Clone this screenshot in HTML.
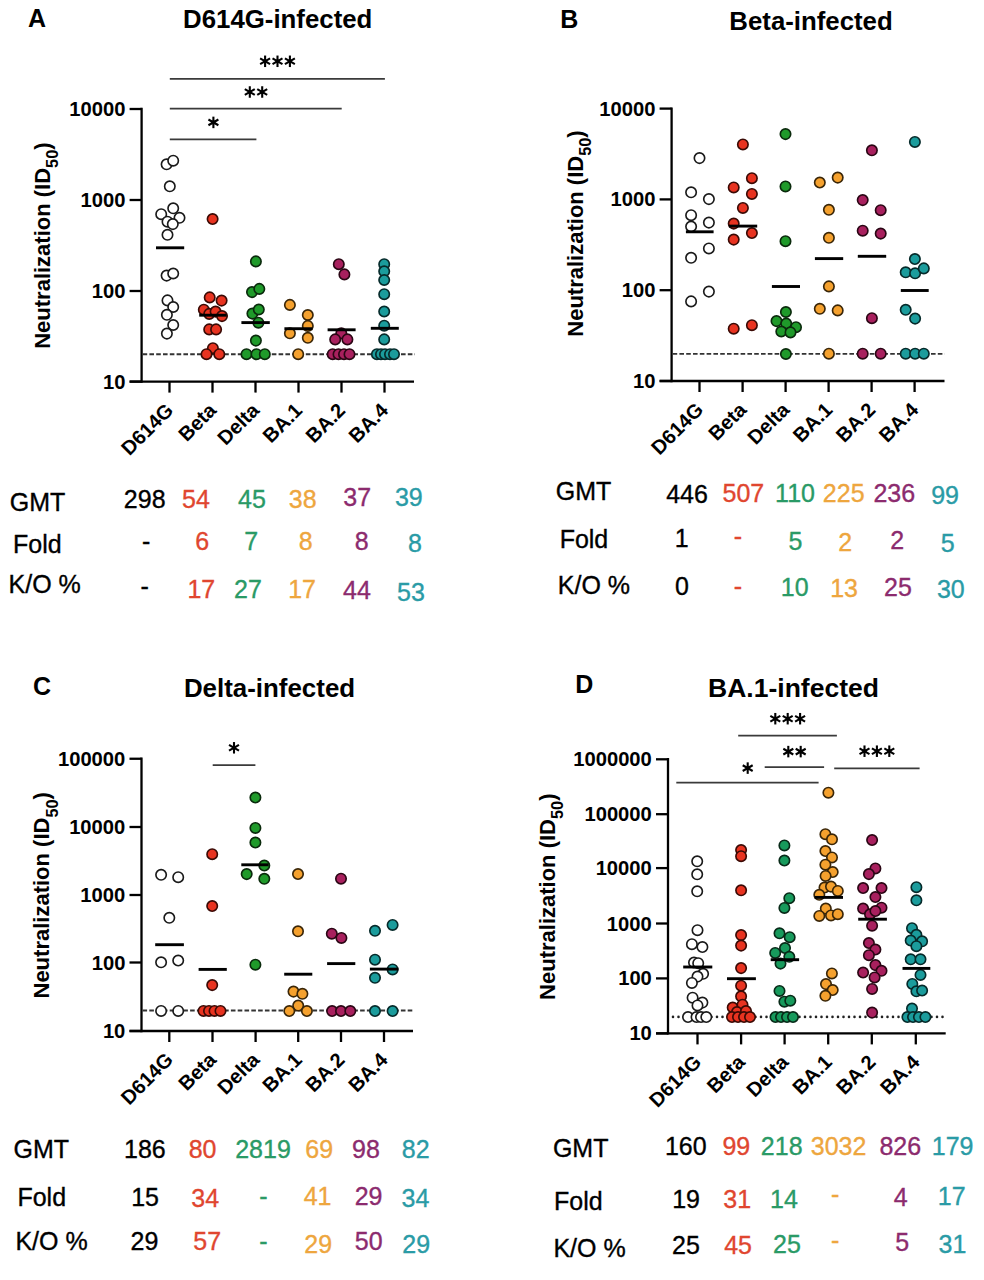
<!DOCTYPE html>
<html><head><meta charset="utf-8"><style>
html,body{margin:0;padding:0;background:#fff;width:984px;height:1280px;overflow:hidden;position:relative}
</style></head><body>
<svg width="984" height="1280" viewBox="0 0 984 1280" style="position:absolute;left:0;top:0;font-family:'Liberation Sans',sans-serif">
<rect width="984" height="1280" fill="#fff"/>
<text x="27.88" y="27.20" font-size="25" font-weight="bold" fill="#000" >A</text>
<text x="183.12" y="28.00" font-size="25.8" font-weight="bold" fill="#000" >D614G-infected</text>
<line x1="141.6" y1="107.8" x2="141.6" y2="382.8" stroke="#000" stroke-width="2.3"/>
<line x1="129.6" y1="381.6" x2="414" y2="381.6" stroke="#000" stroke-width="2.3"/>
<line x1="129.6" y1="109" x2="141.6" y2="109" stroke="#000" stroke-width="2.3"/>
<text x="69.25" y="116.07" font-size="20.2" font-weight="bold">10000</text>
<line x1="129.6" y1="200" x2="141.6" y2="200" stroke="#000" stroke-width="2.3"/>
<text x="80.46" y="207.07" font-size="20.2" font-weight="bold">1000</text>
<line x1="129.6" y1="291" x2="141.6" y2="291" stroke="#000" stroke-width="2.3"/>
<text x="91.78" y="298.07" font-size="20.2" font-weight="bold">100</text>
<line x1="129.6" y1="381.6" x2="141.6" y2="381.6" stroke="#000" stroke-width="2.3"/>
<text x="102.99" y="388.67" font-size="20.2" font-weight="bold">10</text>
<line x1="169.5" y1="381.6" x2="169.5" y2="392.6" stroke="#000" stroke-width="2.3"/>
<line x1="212.5" y1="381.6" x2="212.5" y2="392.6" stroke="#000" stroke-width="2.3"/>
<line x1="255.5" y1="381.6" x2="255.5" y2="392.6" stroke="#000" stroke-width="2.3"/>
<line x1="298.5" y1="381.6" x2="298.5" y2="392.6" stroke="#000" stroke-width="2.3"/>
<line x1="341.5" y1="381.6" x2="341.5" y2="392.6" stroke="#000" stroke-width="2.3"/>
<line x1="384.5" y1="381.6" x2="384.5" y2="392.6" stroke="#000" stroke-width="2.3"/>
<line x1="142.6" y1="354.2" x2="415" y2="354.2" stroke="#333" stroke-width="1.9" stroke-dasharray="4.6 2.2"/>
<text x="174.5" y="411.6" font-size="20.1" font-weight="bold" text-anchor="end" transform="rotate(-45 174.5 411.6)">D614G</text>
<text x="217.5" y="411.6" font-size="20.1" font-weight="bold" text-anchor="end" transform="rotate(-45 217.5 411.6)">Beta</text>
<text x="260.5" y="411.6" font-size="20.1" font-weight="bold" text-anchor="end" transform="rotate(-45 260.5 411.6)">Delta</text>
<text x="303.5" y="411.6" font-size="20.1" font-weight="bold" text-anchor="end" transform="rotate(-45 303.5 411.6)">BA.1</text>
<text x="346.5" y="411.6" font-size="20.1" font-weight="bold" text-anchor="end" transform="rotate(-45 346.5 411.6)">BA.2</text>
<text x="389.5" y="411.6" font-size="20.1" font-weight="bold" text-anchor="end" transform="rotate(-45 389.5 411.6)">BA.4</text>
<text transform="translate(50.0 348.8) rotate(-90)" font-size="22" font-weight="bold">Neutralization (ID<tspan font-size="16.3" dy="8.1">50</tspan><tspan dy="-8.1">)</tspan></text>
<line x1="169.8" y1="78.8" x2="384.9" y2="78.8" stroke="#3a3a3a" stroke-width="1.7"/>
<circle cx="265.10" cy="61.30" r="2.1" fill="#000"/>
<line x1="265.10" y1="55.55" x2="265.10" y2="67.05" stroke="#000" stroke-width="2.1"/>
<line x1="260.12" y1="58.42" x2="270.08" y2="64.17" stroke="#000" stroke-width="2.1"/>
<line x1="260.12" y1="64.17" x2="270.08" y2="58.42" stroke="#000" stroke-width="2.1"/>
<circle cx="277.50" cy="61.30" r="2.1" fill="#000"/>
<line x1="277.50" y1="55.55" x2="277.50" y2="67.05" stroke="#000" stroke-width="2.1"/>
<line x1="272.52" y1="58.42" x2="282.48" y2="64.17" stroke="#000" stroke-width="2.1"/>
<line x1="272.52" y1="64.17" x2="282.48" y2="58.42" stroke="#000" stroke-width="2.1"/>
<circle cx="289.90" cy="61.30" r="2.1" fill="#000"/>
<line x1="289.90" y1="55.55" x2="289.90" y2="67.05" stroke="#000" stroke-width="2.1"/>
<line x1="284.92" y1="58.42" x2="294.88" y2="64.17" stroke="#000" stroke-width="2.1"/>
<line x1="284.92" y1="64.17" x2="294.88" y2="58.42" stroke="#000" stroke-width="2.1"/>
<line x1="169.8" y1="108.6" x2="341.7" y2="108.6" stroke="#3a3a3a" stroke-width="1.7"/>
<circle cx="249.80" cy="92.00" r="2.1" fill="#000"/>
<line x1="249.80" y1="86.25" x2="249.80" y2="97.75" stroke="#000" stroke-width="2.1"/>
<line x1="244.82" y1="89.12" x2="254.78" y2="94.88" stroke="#000" stroke-width="2.1"/>
<line x1="244.82" y1="94.88" x2="254.78" y2="89.12" stroke="#000" stroke-width="2.1"/>
<circle cx="262.20" cy="92.00" r="2.1" fill="#000"/>
<line x1="262.20" y1="86.25" x2="262.20" y2="97.75" stroke="#000" stroke-width="2.1"/>
<line x1="257.22" y1="89.12" x2="267.18" y2="94.88" stroke="#000" stroke-width="2.1"/>
<line x1="257.22" y1="94.88" x2="267.18" y2="89.12" stroke="#000" stroke-width="2.1"/>
<line x1="169.8" y1="139.4" x2="256.4" y2="139.4" stroke="#3a3a3a" stroke-width="1.7"/>
<circle cx="213.40" cy="122.40" r="2.1" fill="#000"/>
<line x1="213.40" y1="116.65" x2="213.40" y2="128.15" stroke="#000" stroke-width="2.1"/>
<line x1="208.42" y1="119.53" x2="218.38" y2="125.28" stroke="#000" stroke-width="2.1"/>
<line x1="208.42" y1="125.28" x2="218.38" y2="119.53" stroke="#000" stroke-width="2.1"/>
<circle cx="166.6" cy="164.3" r="5.2" fill="#ffffff" stroke="#1a1a1a" stroke-width="1.65"/>
<circle cx="173.2" cy="160.7" r="5.2" fill="#ffffff" stroke="#1a1a1a" stroke-width="1.65"/>
<circle cx="169.8" cy="186.3" r="5.2" fill="#ffffff" stroke="#1a1a1a" stroke-width="1.65"/>
<circle cx="161.2" cy="214.2" r="5.2" fill="#ffffff" stroke="#1a1a1a" stroke-width="1.65"/>
<circle cx="167.5" cy="221.7" r="5.2" fill="#ffffff" stroke="#1a1a1a" stroke-width="1.65"/>
<circle cx="179.5" cy="217.8" r="5.2" fill="#ffffff" stroke="#1a1a1a" stroke-width="1.65"/>
<circle cx="173.2" cy="208.3" r="5.2" fill="#ffffff" stroke="#1a1a1a" stroke-width="1.65"/>
<circle cx="172.8" cy="224.1" r="5.2" fill="#ffffff" stroke="#1a1a1a" stroke-width="1.65"/>
<circle cx="167.5" cy="234.8" r="5.2" fill="#ffffff" stroke="#1a1a1a" stroke-width="1.65"/>
<circle cx="166.6" cy="275.6" r="5.2" fill="#ffffff" stroke="#1a1a1a" stroke-width="1.65"/>
<circle cx="173.2" cy="273.5" r="5.2" fill="#ffffff" stroke="#1a1a1a" stroke-width="1.65"/>
<circle cx="167.5" cy="300.4" r="5.2" fill="#ffffff" stroke="#1a1a1a" stroke-width="1.65"/>
<circle cx="173.2" cy="307.0" r="5.2" fill="#ffffff" stroke="#1a1a1a" stroke-width="1.65"/>
<circle cx="166.9" cy="314.8" r="5.2" fill="#ffffff" stroke="#1a1a1a" stroke-width="1.65"/>
<circle cx="173.2" cy="325.0" r="5.2" fill="#ffffff" stroke="#1a1a1a" stroke-width="1.65"/>
<circle cx="166.9" cy="333.6" r="5.2" fill="#ffffff" stroke="#1a1a1a" stroke-width="1.65"/>
<line x1="156.0" y1="247.8" x2="184.2" y2="247.8" stroke="#000" stroke-width="2.9"/>
<circle cx="212.6" cy="219.0" r="5.2" fill="#e83320" stroke="#3a0a05" stroke-width="1.65"/>
<circle cx="209.7" cy="297.4" r="5.2" fill="#e83320" stroke="#3a0a05" stroke-width="1.65"/>
<circle cx="221.6" cy="300.6" r="5.2" fill="#e83320" stroke="#3a0a05" stroke-width="1.65"/>
<circle cx="203.8" cy="309.7" r="5.2" fill="#e83320" stroke="#3a0a05" stroke-width="1.65"/>
<circle cx="209.2" cy="313.9" r="5.2" fill="#e83320" stroke="#3a0a05" stroke-width="1.65"/>
<circle cx="215.6" cy="311.6" r="5.2" fill="#e83320" stroke="#3a0a05" stroke-width="1.65"/>
<circle cx="222.0" cy="316.1" r="5.2" fill="#e83320" stroke="#3a0a05" stroke-width="1.65"/>
<circle cx="209.2" cy="329.4" r="5.2" fill="#e83320" stroke="#3a0a05" stroke-width="1.65"/>
<circle cx="216.1" cy="329.4" r="5.2" fill="#e83320" stroke="#3a0a05" stroke-width="1.65"/>
<circle cx="212.9" cy="348.2" r="5.2" fill="#e83320" stroke="#3a0a05" stroke-width="1.65"/>
<circle cx="206.5" cy="354.2" r="5.2" fill="#e83320" stroke="#3a0a05" stroke-width="1.65"/>
<circle cx="219.3" cy="354.2" r="5.2" fill="#e83320" stroke="#3a0a05" stroke-width="1.65"/>
<line x1="199.2" y1="315.2" x2="226.6" y2="315.2" stroke="#000" stroke-width="2.9"/>
<circle cx="255.9" cy="261.4" r="5.2" fill="#1f9a2a" stroke="#0a2a0c" stroke-width="1.65"/>
<circle cx="252.0" cy="292.1" r="5.2" fill="#1f9a2a" stroke="#0a2a0c" stroke-width="1.65"/>
<circle cx="259.3" cy="288.9" r="5.2" fill="#1f9a2a" stroke="#0a2a0c" stroke-width="1.65"/>
<circle cx="252.4" cy="313.6" r="5.2" fill="#1f9a2a" stroke="#0a2a0c" stroke-width="1.65"/>
<circle cx="258.8" cy="309.5" r="5.2" fill="#1f9a2a" stroke="#0a2a0c" stroke-width="1.65"/>
<circle cx="258.4" cy="322.7" r="5.2" fill="#1f9a2a" stroke="#0a2a0c" stroke-width="1.65"/>
<circle cx="255.9" cy="340.6" r="5.2" fill="#1f9a2a" stroke="#0a2a0c" stroke-width="1.65"/>
<circle cx="246.5" cy="354.2" r="5.2" fill="#1f9a2a" stroke="#0a2a0c" stroke-width="1.65"/>
<circle cx="256.5" cy="354.2" r="5.2" fill="#1f9a2a" stroke="#0a2a0c" stroke-width="1.65"/>
<circle cx="264.8" cy="354.2" r="5.2" fill="#1f9a2a" stroke="#0a2a0c" stroke-width="1.65"/>
<line x1="241.4" y1="322.6" x2="269.8" y2="322.6" stroke="#000" stroke-width="2.9"/>
<circle cx="289.9" cy="304.9" r="5.2" fill="#f5a12e" stroke="#3a2608" stroke-width="1.65"/>
<circle cx="307.8" cy="315.0" r="5.2" fill="#f5a12e" stroke="#3a2608" stroke-width="1.65"/>
<circle cx="307.8" cy="325.9" r="5.2" fill="#f5a12e" stroke="#3a2608" stroke-width="1.65"/>
<circle cx="289.9" cy="333.3" r="5.2" fill="#f5a12e" stroke="#3a2608" stroke-width="1.65"/>
<circle cx="307.8" cy="337.8" r="5.2" fill="#f5a12e" stroke="#3a2608" stroke-width="1.65"/>
<circle cx="298.2" cy="354.2" r="5.2" fill="#f5a12e" stroke="#3a2608" stroke-width="1.65"/>
<line x1="284.4" y1="328.7" x2="312.6" y2="328.7" stroke="#000" stroke-width="2.9"/>
<circle cx="338.8" cy="264.2" r="5.2" fill="#a8205e" stroke="#2a0614" stroke-width="1.65"/>
<circle cx="344.4" cy="274.4" r="5.2" fill="#a8205e" stroke="#2a0614" stroke-width="1.65"/>
<circle cx="341.3" cy="333.3" r="5.2" fill="#a8205e" stroke="#2a0614" stroke-width="1.65"/>
<circle cx="335.2" cy="339.4" r="5.2" fill="#a8205e" stroke="#2a0614" stroke-width="1.65"/>
<circle cx="347.4" cy="339.4" r="5.2" fill="#a8205e" stroke="#2a0614" stroke-width="1.65"/>
<circle cx="332.7" cy="354.2" r="5.2" fill="#a8205e" stroke="#2a0614" stroke-width="1.65"/>
<circle cx="338.5" cy="354.2" r="5.2" fill="#a8205e" stroke="#2a0614" stroke-width="1.65"/>
<circle cx="344.0" cy="354.2" r="5.2" fill="#a8205e" stroke="#2a0614" stroke-width="1.65"/>
<circle cx="349.5" cy="354.2" r="5.2" fill="#a8205e" stroke="#2a0614" stroke-width="1.65"/>
<line x1="327.6" y1="329.8" x2="355.6" y2="329.8" stroke="#000" stroke-width="2.9"/>
<circle cx="384.2" cy="264.2" r="5.2" fill="#1b9c9c" stroke="#062a2a" stroke-width="1.65"/>
<circle cx="384.2" cy="271.3" r="5.2" fill="#1b9c9c" stroke="#062a2a" stroke-width="1.65"/>
<circle cx="384.2" cy="280.0" r="5.2" fill="#1b9c9c" stroke="#062a2a" stroke-width="1.65"/>
<circle cx="384.2" cy="294.2" r="5.2" fill="#1b9c9c" stroke="#062a2a" stroke-width="1.65"/>
<circle cx="384.2" cy="311.5" r="5.2" fill="#1b9c9c" stroke="#062a2a" stroke-width="1.65"/>
<circle cx="384.2" cy="325.7" r="5.2" fill="#1b9c9c" stroke="#062a2a" stroke-width="1.65"/>
<circle cx="384.2" cy="339.4" r="5.2" fill="#1b9c9c" stroke="#062a2a" stroke-width="1.65"/>
<circle cx="376.9" cy="354.2" r="5.2" fill="#1b9c9c" stroke="#062a2a" stroke-width="1.65"/>
<circle cx="381.0" cy="354.2" r="5.2" fill="#1b9c9c" stroke="#062a2a" stroke-width="1.65"/>
<circle cx="385.0" cy="354.2" r="5.2" fill="#1b9c9c" stroke="#062a2a" stroke-width="1.65"/>
<circle cx="390.0" cy="354.2" r="5.2" fill="#1b9c9c" stroke="#062a2a" stroke-width="1.65"/>
<circle cx="394.0" cy="354.2" r="5.2" fill="#1b9c9c" stroke="#062a2a" stroke-width="1.65"/>
<line x1="370.8" y1="328.3" x2="398.8" y2="328.3" stroke="#000" stroke-width="2.9"/>
<text x="9.82" y="511.25" font-size="25" font-weight="normal" fill="#000" stroke="#000" stroke-width="0.35">GMT</text>
<text x="13.00" y="553.25" font-size="25" font-weight="normal" fill="#000" stroke="#000" stroke-width="0.35">Fold</text>
<text x="8.56" y="593.05" font-size="25" font-weight="normal" fill="#000" stroke="#000" stroke-width="0.35">K/O %</text>
<text x="123.86" y="507.55" font-size="25" font-weight="normal" fill="#000" stroke="#000" stroke-width="0.35">298</text>
<text x="141.91" y="550.33" font-size="25" fill="#000" stroke="#000" stroke-width="0.35">-</text>
<text x="140.61" y="594.73" font-size="25" fill="#000" stroke="#000" stroke-width="0.35">-</text>
<text x="182.10" y="507.85" font-size="25" font-weight="normal" fill="#e0462f" stroke="#e0462f" stroke-width="0.35">54</text>
<text x="238.11" y="507.85" font-size="25" font-weight="normal" fill="#2a9a66" stroke="#2a9a66" stroke-width="0.35">45</text>
<text x="288.82" y="507.85" font-size="25" font-weight="normal" fill="#eea63e" stroke="#eea63e" stroke-width="0.35">38</text>
<text x="343.30" y="506.45" font-size="25" font-weight="normal" fill="#8c2b6e" stroke="#8c2b6e" stroke-width="0.35">37</text>
<text x="394.94" y="506.45" font-size="25" font-weight="normal" fill="#2a9ba6" stroke="#2a9ba6" stroke-width="0.35">39</text>
<text x="195.25" y="549.85" font-size="25" font-weight="normal" fill="#e0462f" stroke="#e0462f" stroke-width="0.35">6</text>
<text x="244.31" y="550.10" font-size="25" font-weight="normal" fill="#2a9a66" stroke="#2a9a66" stroke-width="0.35">7</text>
<text x="298.85" y="550.45" font-size="25" font-weight="normal" fill="#eea63e" stroke="#eea63e" stroke-width="0.35">8</text>
<text x="354.65" y="550.45" font-size="25" font-weight="normal" fill="#8c2b6e" stroke="#8c2b6e" stroke-width="0.35">8</text>
<text x="408.05" y="551.75" font-size="25" font-weight="normal" fill="#2a9ba6" stroke="#2a9ba6" stroke-width="0.35">8</text>
<text x="187.41" y="598.10" font-size="25" font-weight="normal" fill="#e0462f" stroke="#e0462f" stroke-width="0.35">17</text>
<text x="234.08" y="598.10" font-size="25" font-weight="normal" fill="#2a9a66" stroke="#2a9a66" stroke-width="0.35">27</text>
<text x="288.21" y="598.10" font-size="25" font-weight="normal" fill="#eea63e" stroke="#eea63e" stroke-width="0.35">17</text>
<text x="343.04" y="598.70" font-size="25" font-weight="normal" fill="#8c2b6e" stroke="#8c2b6e" stroke-width="0.35">44</text>
<text x="396.99" y="600.65" font-size="25" font-weight="normal" fill="#2a9ba6" stroke="#2a9ba6" stroke-width="0.35">53</text>
<text x="560.27" y="27.60" font-size="25" font-weight="bold" fill="#000" >B</text>
<text x="729.32" y="29.70" font-size="25.8" font-weight="bold" fill="#000" >Beta-infected</text>
<line x1="671.6" y1="107.39999999999999" x2="671.6" y2="382.2" stroke="#000" stroke-width="2.3"/>
<line x1="659.6" y1="381.0" x2="944.5" y2="381.0" stroke="#000" stroke-width="2.3"/>
<line x1="659.6" y1="108.6" x2="671.6" y2="108.6" stroke="#000" stroke-width="2.3"/>
<text x="599.25" y="115.67" font-size="20.2" font-weight="bold">10000</text>
<line x1="659.6" y1="199.4" x2="671.6" y2="199.4" stroke="#000" stroke-width="2.3"/>
<text x="610.46" y="206.47" font-size="20.2" font-weight="bold">1000</text>
<line x1="659.6" y1="290.2" x2="671.6" y2="290.2" stroke="#000" stroke-width="2.3"/>
<text x="621.77" y="297.27" font-size="20.2" font-weight="bold">100</text>
<line x1="659.6" y1="381.0" x2="671.6" y2="381.0" stroke="#000" stroke-width="2.3"/>
<text x="632.99" y="388.07" font-size="20.2" font-weight="bold">10</text>
<line x1="699.5" y1="381.0" x2="699.5" y2="392.0" stroke="#000" stroke-width="2.3"/>
<line x1="742.6" y1="381.0" x2="742.6" y2="392.0" stroke="#000" stroke-width="2.3"/>
<line x1="785.6" y1="381.0" x2="785.6" y2="392.0" stroke="#000" stroke-width="2.3"/>
<line x1="828.6" y1="381.0" x2="828.6" y2="392.0" stroke="#000" stroke-width="2.3"/>
<line x1="871.6" y1="381.0" x2="871.6" y2="392.0" stroke="#000" stroke-width="2.3"/>
<line x1="914.6" y1="381.0" x2="914.6" y2="392.0" stroke="#000" stroke-width="2.3"/>
<line x1="672.6" y1="353.9" x2="944.7" y2="353.9" stroke="#333" stroke-width="1.9" stroke-dasharray="4.6 2.2"/>
<text x="704.5" y="411.0" font-size="20.1" font-weight="bold" text-anchor="end" transform="rotate(-45 704.5 411.0)">D614G</text>
<text x="747.6" y="411.0" font-size="20.1" font-weight="bold" text-anchor="end" transform="rotate(-45 747.6 411.0)">Beta</text>
<text x="790.6" y="411.0" font-size="20.1" font-weight="bold" text-anchor="end" transform="rotate(-45 790.6 411.0)">Delta</text>
<text x="833.6" y="411.0" font-size="20.1" font-weight="bold" text-anchor="end" transform="rotate(-45 833.6 411.0)">BA.1</text>
<text x="876.6" y="411.0" font-size="20.1" font-weight="bold" text-anchor="end" transform="rotate(-45 876.6 411.0)">BA.2</text>
<text x="919.6" y="411.0" font-size="20.1" font-weight="bold" text-anchor="end" transform="rotate(-45 919.6 411.0)">BA.4</text>
<text transform="translate(582.9 336.7) rotate(-90)" font-size="22" font-weight="bold">Neutralization (ID<tspan font-size="16.3" dy="8.1">50</tspan><tspan dy="-8.1">)</tspan></text>
<circle cx="699.5" cy="158.1" r="5.2" fill="#ffffff" stroke="#1a1a1a" stroke-width="1.65"/>
<circle cx="691.1" cy="192.3" r="5.2" fill="#ffffff" stroke="#1a1a1a" stroke-width="1.65"/>
<circle cx="708.9" cy="199.1" r="5.2" fill="#ffffff" stroke="#1a1a1a" stroke-width="1.65"/>
<circle cx="691.1" cy="215.2" r="5.2" fill="#ffffff" stroke="#1a1a1a" stroke-width="1.65"/>
<circle cx="708.9" cy="222.6" r="5.2" fill="#ffffff" stroke="#1a1a1a" stroke-width="1.65"/>
<circle cx="691.1" cy="226.5" r="5.2" fill="#ffffff" stroke="#1a1a1a" stroke-width="1.65"/>
<circle cx="708.9" cy="248.4" r="5.2" fill="#ffffff" stroke="#1a1a1a" stroke-width="1.65"/>
<circle cx="691.1" cy="257.8" r="5.2" fill="#ffffff" stroke="#1a1a1a" stroke-width="1.65"/>
<circle cx="708.9" cy="291.6" r="5.2" fill="#ffffff" stroke="#1a1a1a" stroke-width="1.65"/>
<circle cx="691.1" cy="301.4" r="5.2" fill="#ffffff" stroke="#1a1a1a" stroke-width="1.65"/>
<line x1="685.9" y1="231.8" x2="713.6" y2="231.8" stroke="#000" stroke-width="2.9"/>
<circle cx="742.9" cy="144.4" r="5.2" fill="#e83320" stroke="#3a0a05" stroke-width="1.65"/>
<circle cx="751.9" cy="178.2" r="5.2" fill="#e83320" stroke="#3a0a05" stroke-width="1.65"/>
<circle cx="733.7" cy="187.4" r="5.2" fill="#e83320" stroke="#3a0a05" stroke-width="1.65"/>
<circle cx="751.9" cy="193.9" r="5.2" fill="#e83320" stroke="#3a0a05" stroke-width="1.65"/>
<circle cx="742.9" cy="207.9" r="5.2" fill="#e83320" stroke="#3a0a05" stroke-width="1.65"/>
<circle cx="733.7" cy="223.6" r="5.2" fill="#e83320" stroke="#3a0a05" stroke-width="1.65"/>
<circle cx="751.9" cy="233.0" r="5.2" fill="#e83320" stroke="#3a0a05" stroke-width="1.65"/>
<circle cx="733.7" cy="239.6" r="5.2" fill="#e83320" stroke="#3a0a05" stroke-width="1.65"/>
<circle cx="751.9" cy="325.2" r="5.2" fill="#e83320" stroke="#3a0a05" stroke-width="1.65"/>
<circle cx="733.7" cy="328.7" r="5.2" fill="#e83320" stroke="#3a0a05" stroke-width="1.65"/>
<line x1="728.9" y1="226.1" x2="757.2" y2="226.1" stroke="#000" stroke-width="2.9"/>
<circle cx="785.5" cy="134.1" r="5.2" fill="#1f9a2a" stroke="#0a2a0c" stroke-width="1.65"/>
<circle cx="785.5" cy="186.4" r="5.2" fill="#1f9a2a" stroke="#0a2a0c" stroke-width="1.65"/>
<circle cx="785.5" cy="241.2" r="5.2" fill="#1f9a2a" stroke="#0a2a0c" stroke-width="1.65"/>
<circle cx="785.9" cy="312.0" r="5.2" fill="#1f9a2a" stroke="#0a2a0c" stroke-width="1.65"/>
<circle cx="776.5" cy="321.1" r="5.2" fill="#1f9a2a" stroke="#0a2a0c" stroke-width="1.65"/>
<circle cx="786.2" cy="323.5" r="5.2" fill="#1f9a2a" stroke="#0a2a0c" stroke-width="1.65"/>
<circle cx="796.0" cy="327.2" r="5.2" fill="#1f9a2a" stroke="#0a2a0c" stroke-width="1.65"/>
<circle cx="781.3" cy="331.5" r="5.2" fill="#1f9a2a" stroke="#0a2a0c" stroke-width="1.65"/>
<circle cx="790.5" cy="332.4" r="5.2" fill="#1f9a2a" stroke="#0a2a0c" stroke-width="1.65"/>
<circle cx="785.9" cy="354.0" r="5.2" fill="#1f9a2a" stroke="#0a2a0c" stroke-width="1.65"/>
<line x1="771.9" y1="286.5" x2="800.0" y2="286.5" stroke="#000" stroke-width="2.9"/>
<circle cx="819.8" cy="182.5" r="5.2" fill="#f5a12e" stroke="#3a2608" stroke-width="1.65"/>
<circle cx="837.7" cy="177.6" r="5.2" fill="#f5a12e" stroke="#3a2608" stroke-width="1.65"/>
<circle cx="828.9" cy="209.8" r="5.2" fill="#f5a12e" stroke="#3a2608" stroke-width="1.65"/>
<circle cx="828.9" cy="237.8" r="5.2" fill="#f5a12e" stroke="#3a2608" stroke-width="1.65"/>
<circle cx="828.9" cy="286.4" r="5.2" fill="#f5a12e" stroke="#3a2608" stroke-width="1.65"/>
<circle cx="819.8" cy="308.8" r="5.2" fill="#f5a12e" stroke="#3a2608" stroke-width="1.65"/>
<circle cx="837.7" cy="310.4" r="5.2" fill="#f5a12e" stroke="#3a2608" stroke-width="1.65"/>
<circle cx="828.9" cy="353.7" r="5.2" fill="#f5a12e" stroke="#3a2608" stroke-width="1.65"/>
<line x1="814.9" y1="258.6" x2="843.2" y2="258.6" stroke="#000" stroke-width="2.9"/>
<circle cx="871.9" cy="150.3" r="5.2" fill="#a8205e" stroke="#2a0614" stroke-width="1.65"/>
<circle cx="862.7" cy="200.1" r="5.2" fill="#a8205e" stroke="#2a0614" stroke-width="1.65"/>
<circle cx="880.7" cy="210.2" r="5.2" fill="#a8205e" stroke="#2a0614" stroke-width="1.65"/>
<circle cx="862.7" cy="230.7" r="5.2" fill="#a8205e" stroke="#2a0614" stroke-width="1.65"/>
<circle cx="880.7" cy="233.6" r="5.2" fill="#a8205e" stroke="#2a0614" stroke-width="1.65"/>
<circle cx="871.9" cy="318.2" r="5.2" fill="#a8205e" stroke="#2a0614" stroke-width="1.65"/>
<circle cx="862.7" cy="353.7" r="5.2" fill="#a8205e" stroke="#2a0614" stroke-width="1.65"/>
<circle cx="880.7" cy="353.7" r="5.2" fill="#a8205e" stroke="#2a0614" stroke-width="1.65"/>
<line x1="857.8" y1="256.3" x2="886.2" y2="256.3" stroke="#000" stroke-width="2.9"/>
<circle cx="914.9" cy="141.9" r="5.2" fill="#1b9c9c" stroke="#062a2a" stroke-width="1.65"/>
<circle cx="914.9" cy="259.0" r="5.2" fill="#1b9c9c" stroke="#062a2a" stroke-width="1.65"/>
<circle cx="905.7" cy="272.3" r="5.2" fill="#1b9c9c" stroke="#062a2a" stroke-width="1.65"/>
<circle cx="915.1" cy="273.3" r="5.2" fill="#1b9c9c" stroke="#062a2a" stroke-width="1.65"/>
<circle cx="923.8" cy="268.4" r="5.2" fill="#1b9c9c" stroke="#062a2a" stroke-width="1.65"/>
<circle cx="905.7" cy="309.8" r="5.2" fill="#1b9c9c" stroke="#062a2a" stroke-width="1.65"/>
<circle cx="915.1" cy="318.6" r="5.2" fill="#1b9c9c" stroke="#062a2a" stroke-width="1.65"/>
<circle cx="905.7" cy="353.7" r="5.2" fill="#1b9c9c" stroke="#062a2a" stroke-width="1.65"/>
<circle cx="915.1" cy="353.7" r="5.2" fill="#1b9c9c" stroke="#062a2a" stroke-width="1.65"/>
<circle cx="923.8" cy="353.7" r="5.2" fill="#1b9c9c" stroke="#062a2a" stroke-width="1.65"/>
<line x1="900.8" y1="290.5" x2="928.7" y2="290.5" stroke="#000" stroke-width="2.9"/>
<text x="555.83" y="500.35" font-size="25" font-weight="normal" fill="#000" stroke="#000" stroke-width="0.35">GMT</text>
<text x="559.65" y="547.65" font-size="25" font-weight="normal" fill="#000" stroke="#000" stroke-width="0.35">Fold</text>
<text x="557.86" y="593.55" font-size="25" font-weight="normal" fill="#000" stroke="#000" stroke-width="0.35">K/O %</text>
<text x="666.19" y="502.55" font-size="25" font-weight="normal" fill="#000" stroke="#000" stroke-width="0.35">446</text>
<text x="674.75" y="546.80" font-size="25" font-weight="normal" fill="#000" stroke="#000" stroke-width="0.35">1</text>
<text x="675.06" y="594.65" font-size="25" font-weight="normal" fill="#000" stroke="#000" stroke-width="0.35">0</text>
<text x="722.51" y="502.35" font-size="25" font-weight="normal" fill="#e0462f" stroke="#e0462f" stroke-width="0.35">507</text>
<text x="733.66" y="545.23" font-size="25" fill="#e0462f" stroke="#e0462f" stroke-width="0.35">-</text>
<text x="733.66" y="595.12" font-size="25" fill="#e0462f" stroke="#e0462f" stroke-width="0.35">-</text>
<text x="775.08" y="502.35" font-size="25" font-weight="normal" fill="#2a9a66" stroke="#2a9a66" stroke-width="0.35">110</text>
<text x="788.51" y="550.45" font-size="25" font-weight="normal" fill="#2a9a66" stroke="#2a9a66" stroke-width="0.35">5</text>
<text x="780.74" y="595.65" font-size="25" font-weight="normal" fill="#2a9a66" stroke="#2a9a66" stroke-width="0.35">10</text>
<text x="822.86" y="502.35" font-size="25" font-weight="normal" fill="#eea63e" stroke="#eea63e" stroke-width="0.35">225</text>
<text x="838.21" y="550.70" font-size="25" font-weight="normal" fill="#eea63e" stroke="#eea63e" stroke-width="0.35">2</text>
<text x="830.20" y="597.05" font-size="25" font-weight="normal" fill="#eea63e" stroke="#eea63e" stroke-width="0.35">13</text>
<text x="873.38" y="502.35" font-size="25" font-weight="normal" fill="#8c2b6e" stroke="#8c2b6e" stroke-width="0.35">236</text>
<text x="890.36" y="549.30" font-size="25" font-weight="normal" fill="#8c2b6e" stroke="#8c2b6e" stroke-width="0.35">2</text>
<text x="884.00" y="595.65" font-size="25" font-weight="normal" fill="#8c2b6e" stroke="#8c2b6e" stroke-width="0.35">25</text>
<text x="931.17" y="503.75" font-size="25" font-weight="normal" fill="#2a9ba6" stroke="#2a9ba6" stroke-width="0.35">99</text>
<text x="940.81" y="551.75" font-size="25" font-weight="normal" fill="#2a9ba6" stroke="#2a9ba6" stroke-width="0.35">5</text>
<text x="936.92" y="597.85" font-size="25" font-weight="normal" fill="#2a9ba6" stroke="#2a9ba6" stroke-width="0.35">30</text>
<text x="33.10" y="695.40" font-size="25" font-weight="bold" fill="#000" >C</text>
<text x="183.92" y="696.70" font-size="25.9" font-weight="bold" fill="#000" >Delta-infected</text>
<line x1="141.5" y1="757.4" x2="141.5" y2="1032.2" stroke="#000" stroke-width="2.3"/>
<line x1="129.5" y1="1031.0" x2="413.0" y2="1031.0" stroke="#000" stroke-width="2.3"/>
<line x1="129.5" y1="758.75" x2="141.5" y2="758.75" stroke="#000" stroke-width="2.3"/>
<text x="57.94" y="765.82" font-size="20.2" font-weight="bold">100000</text>
<line x1="129.5" y1="827" x2="141.5" y2="827" stroke="#000" stroke-width="2.3"/>
<text x="69.15" y="834.07" font-size="20.2" font-weight="bold">10000</text>
<line x1="129.5" y1="895" x2="141.5" y2="895" stroke="#000" stroke-width="2.3"/>
<text x="80.36" y="902.07" font-size="20.2" font-weight="bold">1000</text>
<line x1="129.5" y1="962.5" x2="141.5" y2="962.5" stroke="#000" stroke-width="2.3"/>
<text x="91.68" y="969.57" font-size="20.2" font-weight="bold">100</text>
<line x1="129.5" y1="1031.0" x2="141.5" y2="1031.0" stroke="#000" stroke-width="2.3"/>
<text x="102.89" y="1038.07" font-size="20.2" font-weight="bold">10</text>
<line x1="169.3" y1="1031.0" x2="169.3" y2="1042.0" stroke="#000" stroke-width="2.3"/>
<line x1="212.5" y1="1031.0" x2="212.5" y2="1042.0" stroke="#000" stroke-width="2.3"/>
<line x1="255.6" y1="1031.0" x2="255.6" y2="1042.0" stroke="#000" stroke-width="2.3"/>
<line x1="298.2" y1="1031.0" x2="298.2" y2="1042.0" stroke="#000" stroke-width="2.3"/>
<line x1="341.0" y1="1031.0" x2="341.0" y2="1042.0" stroke="#000" stroke-width="2.3"/>
<line x1="384.0" y1="1031.0" x2="384.0" y2="1042.0" stroke="#000" stroke-width="2.3"/>
<line x1="142.5" y1="1010.5" x2="414.5" y2="1010.5" stroke="#333" stroke-width="1.9" stroke-dasharray="4.6 2.2"/>
<text x="174.3" y="1061.0" font-size="20.1" font-weight="bold" text-anchor="end" transform="rotate(-45 174.3 1061.0)">D614G</text>
<text x="217.5" y="1061.0" font-size="20.1" font-weight="bold" text-anchor="end" transform="rotate(-45 217.5 1061.0)">Beta</text>
<text x="260.6" y="1061.0" font-size="20.1" font-weight="bold" text-anchor="end" transform="rotate(-45 260.6 1061.0)">Delta</text>
<text x="303.2" y="1061.0" font-size="20.1" font-weight="bold" text-anchor="end" transform="rotate(-45 303.2 1061.0)">BA.1</text>
<text x="346.0" y="1061.0" font-size="20.1" font-weight="bold" text-anchor="end" transform="rotate(-45 346.0 1061.0)">BA.2</text>
<text x="389.0" y="1061.0" font-size="20.1" font-weight="bold" text-anchor="end" transform="rotate(-45 389.0 1061.0)">BA.4</text>
<text transform="translate(49.4 998.5) rotate(-90)" font-size="22" font-weight="bold">Neutralization (ID<tspan font-size="16.3" dy="8.1">50</tspan><tspan dy="-8.1">)</tspan></text>
<line x1="212.7" y1="765.1" x2="255.4" y2="765.1" stroke="#3a3a3a" stroke-width="1.7"/>
<circle cx="234.00" cy="747.80" r="2.1" fill="#000"/>
<line x1="234.00" y1="742.05" x2="234.00" y2="753.55" stroke="#000" stroke-width="2.1"/>
<line x1="229.02" y1="744.92" x2="238.98" y2="750.67" stroke="#000" stroke-width="2.1"/>
<line x1="229.02" y1="750.67" x2="238.98" y2="744.92" stroke="#000" stroke-width="2.1"/>
<circle cx="161.1" cy="874.8" r="5.2" fill="#ffffff" stroke="#1a1a1a" stroke-width="1.65"/>
<circle cx="178.2" cy="877.2" r="5.2" fill="#ffffff" stroke="#1a1a1a" stroke-width="1.65"/>
<circle cx="169.3" cy="917.8" r="5.2" fill="#ffffff" stroke="#1a1a1a" stroke-width="1.65"/>
<circle cx="161.1" cy="962.3" r="5.2" fill="#ffffff" stroke="#1a1a1a" stroke-width="1.65"/>
<circle cx="178.2" cy="960.5" r="5.2" fill="#ffffff" stroke="#1a1a1a" stroke-width="1.65"/>
<circle cx="161.1" cy="1010.9" r="5.2" fill="#ffffff" stroke="#1a1a1a" stroke-width="1.65"/>
<circle cx="178.2" cy="1010.9" r="5.2" fill="#ffffff" stroke="#1a1a1a" stroke-width="1.65"/>
<line x1="155.2" y1="944.7" x2="183.9" y2="944.7" stroke="#000" stroke-width="2.9"/>
<circle cx="212.2" cy="854.2" r="5.2" fill="#e83320" stroke="#3a0a05" stroke-width="1.65"/>
<circle cx="212.2" cy="906.0" r="5.2" fill="#e83320" stroke="#3a0a05" stroke-width="1.65"/>
<circle cx="212.2" cy="985.1" r="5.2" fill="#e83320" stroke="#3a0a05" stroke-width="1.65"/>
<circle cx="203.5" cy="1010.9" r="5.2" fill="#e83320" stroke="#3a0a05" stroke-width="1.65"/>
<circle cx="209.0" cy="1010.9" r="5.2" fill="#e83320" stroke="#3a0a05" stroke-width="1.65"/>
<circle cx="214.5" cy="1010.9" r="5.2" fill="#e83320" stroke="#3a0a05" stroke-width="1.65"/>
<circle cx="220.5" cy="1010.9" r="5.2" fill="#e83320" stroke="#3a0a05" stroke-width="1.65"/>
<line x1="198.6" y1="969.4" x2="226.8" y2="969.4" stroke="#000" stroke-width="2.9"/>
<circle cx="255.4" cy="797.5" r="5.2" fill="#1f9a2a" stroke="#0a2a0c" stroke-width="1.65"/>
<circle cx="255.4" cy="827.9" r="5.2" fill="#1f9a2a" stroke="#0a2a0c" stroke-width="1.65"/>
<circle cx="255.4" cy="842.5" r="5.2" fill="#1f9a2a" stroke="#0a2a0c" stroke-width="1.65"/>
<circle cx="264.3" cy="865.5" r="5.2" fill="#1f9a2a" stroke="#0a2a0c" stroke-width="1.65"/>
<circle cx="246.7" cy="874.1" r="5.2" fill="#1f9a2a" stroke="#0a2a0c" stroke-width="1.65"/>
<circle cx="264.3" cy="878.8" r="5.2" fill="#1f9a2a" stroke="#0a2a0c" stroke-width="1.65"/>
<circle cx="255.4" cy="964.7" r="5.2" fill="#1f9a2a" stroke="#0a2a0c" stroke-width="1.65"/>
<line x1="241.3" y1="864.8" x2="268.5" y2="864.8" stroke="#000" stroke-width="2.9"/>
<circle cx="298.0" cy="874.0" r="5.2" fill="#f5a12e" stroke="#3a2608" stroke-width="1.65"/>
<circle cx="298.0" cy="931.3" r="5.2" fill="#f5a12e" stroke="#3a2608" stroke-width="1.65"/>
<circle cx="293.5" cy="991.6" r="5.2" fill="#f5a12e" stroke="#3a2608" stroke-width="1.65"/>
<circle cx="302.4" cy="993.8" r="5.2" fill="#f5a12e" stroke="#3a2608" stroke-width="1.65"/>
<circle cx="298.2" cy="1005.6" r="5.2" fill="#f5a12e" stroke="#3a2608" stroke-width="1.65"/>
<circle cx="289.3" cy="1011.0" r="5.2" fill="#f5a12e" stroke="#3a2608" stroke-width="1.65"/>
<circle cx="306.9" cy="1011.0" r="5.2" fill="#f5a12e" stroke="#3a2608" stroke-width="1.65"/>
<line x1="284.2" y1="974.2" x2="312.3" y2="974.2" stroke="#000" stroke-width="2.9"/>
<circle cx="341.0" cy="878.7" r="5.2" fill="#a8205e" stroke="#2a0614" stroke-width="1.65"/>
<circle cx="331.8" cy="933.7" r="5.2" fill="#a8205e" stroke="#2a0614" stroke-width="1.65"/>
<circle cx="341.4" cy="937.9" r="5.2" fill="#a8205e" stroke="#2a0614" stroke-width="1.65"/>
<circle cx="332.1" cy="1011.0" r="5.2" fill="#a8205e" stroke="#2a0614" stroke-width="1.65"/>
<circle cx="341.0" cy="1011.0" r="5.2" fill="#a8205e" stroke="#2a0614" stroke-width="1.65"/>
<circle cx="350.3" cy="1011.0" r="5.2" fill="#a8205e" stroke="#2a0614" stroke-width="1.65"/>
<line x1="327.1" y1="963.6" x2="355.3" y2="963.6" stroke="#000" stroke-width="2.9"/>
<circle cx="375.0" cy="930.8" r="5.2" fill="#1b9c9c" stroke="#062a2a" stroke-width="1.65"/>
<circle cx="392.6" cy="924.9" r="5.2" fill="#1b9c9c" stroke="#062a2a" stroke-width="1.65"/>
<circle cx="375.0" cy="959.7" r="5.2" fill="#1b9c9c" stroke="#062a2a" stroke-width="1.65"/>
<circle cx="392.6" cy="969.4" r="5.2" fill="#1b9c9c" stroke="#062a2a" stroke-width="1.65"/>
<circle cx="375.0" cy="977.8" r="5.2" fill="#1b9c9c" stroke="#062a2a" stroke-width="1.65"/>
<circle cx="375.0" cy="1011.0" r="5.2" fill="#1b9c9c" stroke="#062a2a" stroke-width="1.65"/>
<circle cx="392.6" cy="1011.0" r="5.2" fill="#1b9c9c" stroke="#062a2a" stroke-width="1.65"/>
<line x1="369.9" y1="969.1" x2="398.5" y2="969.1" stroke="#000" stroke-width="2.9"/>
<text x="13.52" y="1158.05" font-size="25" font-weight="normal" fill="#000" stroke="#000" stroke-width="0.35">GMT</text>
<text x="17.45" y="1205.85" font-size="25" font-weight="normal" fill="#000" stroke="#000" stroke-width="0.35">Fold</text>
<text x="15.41" y="1250.25" font-size="25" font-weight="normal" fill="#000" stroke="#000" stroke-width="0.35">K/O %</text>
<text x="124.01" y="1158.05" font-size="25" font-weight="normal" fill="#000" stroke="#000" stroke-width="0.35">186</text>
<text x="131.14" y="1205.85" font-size="25" font-weight="normal" fill="#000" stroke="#000" stroke-width="0.35">15</text>
<text x="130.61" y="1250.25" font-size="25" font-weight="normal" fill="#000" stroke="#000" stroke-width="0.35">29</text>
<text x="188.71" y="1157.85" font-size="25" font-weight="normal" fill="#e0462f" stroke="#e0462f" stroke-width="0.35">80</text>
<text x="191.35" y="1206.75" font-size="25" font-weight="normal" fill="#e0462f" stroke="#e0462f" stroke-width="0.35">34</text>
<text x="193.30" y="1249.85" font-size="25" font-weight="normal" fill="#e0462f" stroke="#e0462f" stroke-width="0.35">57</text>
<text x="235.18" y="1157.85" font-size="25" font-weight="normal" fill="#2a9a66" stroke="#2a9a66" stroke-width="0.35">2819</text>
<text x="259.26" y="1204.83" font-size="25" fill="#2a9a66" stroke="#2a9a66" stroke-width="0.35">-</text>
<text x="259.26" y="1250.12" font-size="25" fill="#2a9a66" stroke="#2a9a66" stroke-width="0.35">-</text>
<text x="305.31" y="1157.85" font-size="25" font-weight="normal" fill="#eea63e" stroke="#eea63e" stroke-width="0.35">69</text>
<text x="303.69" y="1204.80" font-size="25" font-weight="normal" fill="#eea63e" stroke="#eea63e" stroke-width="0.35">41</text>
<text x="304.26" y="1252.55" font-size="25" font-weight="normal" fill="#eea63e" stroke="#eea63e" stroke-width="0.35">29</text>
<text x="352.01" y="1157.85" font-size="25" font-weight="normal" fill="#8c2b6e" stroke="#8c2b6e" stroke-width="0.35">98</text>
<text x="354.71" y="1204.55" font-size="25" font-weight="normal" fill="#8c2b6e" stroke="#8c2b6e" stroke-width="0.35">29</text>
<text x="354.77" y="1249.85" font-size="25" font-weight="normal" fill="#8c2b6e" stroke="#8c2b6e" stroke-width="0.35">50</text>
<text x="401.79" y="1157.85" font-size="25" font-weight="normal" fill="#2a9ba6" stroke="#2a9ba6" stroke-width="0.35">82</text>
<text x="401.60" y="1207.25" font-size="25" font-weight="normal" fill="#2a9ba6" stroke="#2a9ba6" stroke-width="0.35">34</text>
<text x="402.31" y="1252.55" font-size="25" font-weight="normal" fill="#2a9ba6" stroke="#2a9ba6" stroke-width="0.35">29</text>
<text x="575.27" y="692.90" font-size="25" font-weight="bold" fill="#000" >D</text>
<text x="708.08" y="697.00" font-size="26.5" font-weight="bold" fill="#000" >BA.1-infected</text>
<line x1="668.0" y1="758.0999999999999" x2="668.0" y2="1034.6000000000001" stroke="#000" stroke-width="2.3"/>
<line x1="656.0" y1="1033.4" x2="945.7" y2="1033.4" stroke="#000" stroke-width="2.3"/>
<line x1="656.0" y1="759.3" x2="668.0" y2="759.3" stroke="#000" stroke-width="2.3"/>
<text x="573.23" y="766.37" font-size="20.2" font-weight="bold">1000000</text>
<line x1="656.0" y1="814.2" x2="668.0" y2="814.2" stroke="#000" stroke-width="2.3"/>
<text x="584.44" y="821.27" font-size="20.2" font-weight="bold">100000</text>
<line x1="656.0" y1="868.1" x2="668.0" y2="868.1" stroke="#000" stroke-width="2.3"/>
<text x="595.65" y="875.17" font-size="20.2" font-weight="bold">10000</text>
<line x1="656.0" y1="923.5" x2="668.0" y2="923.5" stroke="#000" stroke-width="2.3"/>
<text x="606.86" y="930.57" font-size="20.2" font-weight="bold">1000</text>
<line x1="656.0" y1="978.4" x2="668.0" y2="978.4" stroke="#000" stroke-width="2.3"/>
<text x="618.17" y="985.47" font-size="20.2" font-weight="bold">100</text>
<line x1="656.0" y1="1033.4" x2="668.0" y2="1033.4" stroke="#000" stroke-width="2.3"/>
<text x="629.39" y="1040.47" font-size="20.2" font-weight="bold">10</text>
<line x1="697.5" y1="1033.4" x2="697.5" y2="1044.4" stroke="#000" stroke-width="2.3"/>
<line x1="741.1" y1="1033.4" x2="741.1" y2="1044.4" stroke="#000" stroke-width="2.3"/>
<line x1="784.6" y1="1033.4" x2="784.6" y2="1044.4" stroke="#000" stroke-width="2.3"/>
<line x1="828.2" y1="1033.4" x2="828.2" y2="1044.4" stroke="#000" stroke-width="2.3"/>
<line x1="871.8" y1="1033.4" x2="871.8" y2="1044.4" stroke="#000" stroke-width="2.3"/>
<line x1="915.8" y1="1033.4" x2="915.8" y2="1044.4" stroke="#000" stroke-width="2.3"/>
<line x1="673.0" y1="1016.9" x2="943" y2="1016.9" stroke="#222" stroke-width="2.6" stroke-dasharray="0 5.5" stroke-linecap="round"/>
<text x="702.5" y="1063.4" font-size="20.1" font-weight="bold" text-anchor="end" transform="rotate(-45 702.5 1063.4)">D614G</text>
<text x="746.1" y="1063.4" font-size="20.1" font-weight="bold" text-anchor="end" transform="rotate(-45 746.1 1063.4)">Beta</text>
<text x="789.6" y="1063.4" font-size="20.1" font-weight="bold" text-anchor="end" transform="rotate(-45 789.6 1063.4)">Delta</text>
<text x="833.2" y="1063.4" font-size="20.1" font-weight="bold" text-anchor="end" transform="rotate(-45 833.2 1063.4)">BA.1</text>
<text x="876.8" y="1063.4" font-size="20.1" font-weight="bold" text-anchor="end" transform="rotate(-45 876.8 1063.4)">BA.2</text>
<text x="920.8" y="1063.4" font-size="20.1" font-weight="bold" text-anchor="end" transform="rotate(-45 920.8 1063.4)">BA.4</text>
<text transform="translate(554.6 999.9) rotate(-90)" font-size="22" font-weight="bold">Neutralization (ID<tspan font-size="16.3" dy="8.1">50</tspan><tspan dy="-8.1">)</tspan></text>
<line x1="738.2" y1="735.7" x2="836.9" y2="735.7" stroke="#3a3a3a" stroke-width="1.7"/>
<circle cx="775.30" cy="718.70" r="2.1" fill="#000"/>
<line x1="775.30" y1="712.95" x2="775.30" y2="724.45" stroke="#000" stroke-width="2.1"/>
<line x1="770.32" y1="715.83" x2="780.28" y2="721.58" stroke="#000" stroke-width="2.1"/>
<line x1="770.32" y1="721.58" x2="780.28" y2="715.83" stroke="#000" stroke-width="2.1"/>
<circle cx="787.70" cy="718.70" r="2.1" fill="#000"/>
<line x1="787.70" y1="712.95" x2="787.70" y2="724.45" stroke="#000" stroke-width="2.1"/>
<line x1="782.72" y1="715.83" x2="792.68" y2="721.58" stroke="#000" stroke-width="2.1"/>
<line x1="782.72" y1="721.58" x2="792.68" y2="715.83" stroke="#000" stroke-width="2.1"/>
<circle cx="800.10" cy="718.70" r="2.1" fill="#000"/>
<line x1="800.10" y1="712.95" x2="800.10" y2="724.45" stroke="#000" stroke-width="2.1"/>
<line x1="795.12" y1="715.83" x2="805.08" y2="721.58" stroke="#000" stroke-width="2.1"/>
<line x1="795.12" y1="721.58" x2="805.08" y2="715.83" stroke="#000" stroke-width="2.1"/>
<line x1="764.7" y1="767.2" x2="824.1" y2="767.2" stroke="#3a3a3a" stroke-width="1.7"/>
<circle cx="788.30" cy="751.60" r="2.1" fill="#000"/>
<line x1="788.30" y1="745.85" x2="788.30" y2="757.35" stroke="#000" stroke-width="2.1"/>
<line x1="783.32" y1="748.73" x2="793.28" y2="754.48" stroke="#000" stroke-width="2.1"/>
<line x1="783.32" y1="754.48" x2="793.28" y2="748.73" stroke="#000" stroke-width="2.1"/>
<circle cx="800.70" cy="751.60" r="2.1" fill="#000"/>
<line x1="800.70" y1="745.85" x2="800.70" y2="757.35" stroke="#000" stroke-width="2.1"/>
<line x1="795.72" y1="748.73" x2="805.68" y2="754.48" stroke="#000" stroke-width="2.1"/>
<line x1="795.72" y1="754.48" x2="805.68" y2="748.73" stroke="#000" stroke-width="2.1"/>
<line x1="834.2" y1="768.3" x2="919.6" y2="768.3" stroke="#3a3a3a" stroke-width="1.7"/>
<circle cx="864.50" cy="751.20" r="2.1" fill="#000"/>
<line x1="864.50" y1="745.45" x2="864.50" y2="756.95" stroke="#000" stroke-width="2.1"/>
<line x1="859.52" y1="748.33" x2="869.48" y2="754.08" stroke="#000" stroke-width="2.1"/>
<line x1="859.52" y1="754.08" x2="869.48" y2="748.33" stroke="#000" stroke-width="2.1"/>
<circle cx="876.90" cy="751.20" r="2.1" fill="#000"/>
<line x1="876.90" y1="745.45" x2="876.90" y2="756.95" stroke="#000" stroke-width="2.1"/>
<line x1="871.92" y1="748.33" x2="881.88" y2="754.08" stroke="#000" stroke-width="2.1"/>
<line x1="871.92" y1="754.08" x2="881.88" y2="748.33" stroke="#000" stroke-width="2.1"/>
<circle cx="889.30" cy="751.20" r="2.1" fill="#000"/>
<line x1="889.30" y1="745.45" x2="889.30" y2="756.95" stroke="#000" stroke-width="2.1"/>
<line x1="884.32" y1="748.33" x2="894.28" y2="754.08" stroke="#000" stroke-width="2.1"/>
<line x1="884.32" y1="754.08" x2="894.28" y2="748.33" stroke="#000" stroke-width="2.1"/>
<circle cx="747.70" cy="768.10" r="2.1" fill="#000"/>
<line x1="747.70" y1="762.35" x2="747.70" y2="773.85" stroke="#000" stroke-width="2.1"/>
<line x1="742.72" y1="765.23" x2="752.68" y2="770.98" stroke="#000" stroke-width="2.1"/>
<line x1="742.72" y1="770.98" x2="752.68" y2="765.23" stroke="#000" stroke-width="2.1"/>
<line x1="676.3" y1="782.7" x2="818.6" y2="782.7" stroke="#3a3a3a" stroke-width="1.7"/>
<circle cx="697.2" cy="861.3" r="5.2" fill="#ffffff" stroke="#1a1a1a" stroke-width="1.65"/>
<circle cx="697.2" cy="874.3" r="5.2" fill="#ffffff" stroke="#1a1a1a" stroke-width="1.65"/>
<circle cx="697.2" cy="891.3" r="5.2" fill="#ffffff" stroke="#1a1a1a" stroke-width="1.65"/>
<circle cx="697.5" cy="930.2" r="5.2" fill="#ffffff" stroke="#1a1a1a" stroke-width="1.65"/>
<circle cx="691.9" cy="944.2" r="5.2" fill="#ffffff" stroke="#1a1a1a" stroke-width="1.65"/>
<circle cx="702.4" cy="947.0" r="5.2" fill="#ffffff" stroke="#1a1a1a" stroke-width="1.65"/>
<circle cx="694.0" cy="962.5" r="5.2" fill="#ffffff" stroke="#1a1a1a" stroke-width="1.65"/>
<circle cx="698.2" cy="963.2" r="5.2" fill="#ffffff" stroke="#1a1a1a" stroke-width="1.65"/>
<circle cx="703.1" cy="973.8" r="5.2" fill="#ffffff" stroke="#1a1a1a" stroke-width="1.65"/>
<circle cx="697.5" cy="976.6" r="5.2" fill="#ffffff" stroke="#1a1a1a" stroke-width="1.65"/>
<circle cx="691.9" cy="982.9" r="5.2" fill="#ffffff" stroke="#1a1a1a" stroke-width="1.65"/>
<circle cx="692.6" cy="997.7" r="5.2" fill="#ffffff" stroke="#1a1a1a" stroke-width="1.65"/>
<circle cx="702.4" cy="1002.6" r="5.2" fill="#ffffff" stroke="#1a1a1a" stroke-width="1.65"/>
<circle cx="697.5" cy="1005.4" r="5.2" fill="#ffffff" stroke="#1a1a1a" stroke-width="1.65"/>
<circle cx="688.0" cy="1017.0" r="5.2" fill="#ffffff" stroke="#1a1a1a" stroke-width="1.65"/>
<circle cx="696.5" cy="1017.0" r="5.2" fill="#ffffff" stroke="#1a1a1a" stroke-width="1.65"/>
<circle cx="701.0" cy="1017.0" r="5.2" fill="#ffffff" stroke="#1a1a1a" stroke-width="1.65"/>
<circle cx="706.3" cy="1017.0" r="5.2" fill="#ffffff" stroke="#1a1a1a" stroke-width="1.65"/>
<line x1="683.2" y1="967.0" x2="712.3" y2="967.0" stroke="#000" stroke-width="2.9"/>
<circle cx="741.1" cy="850.1" r="5.2" fill="#e83320" stroke="#3a0a05" stroke-width="1.65"/>
<circle cx="741.1" cy="856.2" r="5.2" fill="#e83320" stroke="#3a0a05" stroke-width="1.65"/>
<circle cx="741.1" cy="890.3" r="5.2" fill="#e83320" stroke="#3a0a05" stroke-width="1.65"/>
<circle cx="741.1" cy="935.1" r="5.2" fill="#e83320" stroke="#3a0a05" stroke-width="1.65"/>
<circle cx="741.1" cy="945.6" r="5.2" fill="#e83320" stroke="#3a0a05" stroke-width="1.65"/>
<circle cx="741.1" cy="968.1" r="5.2" fill="#e83320" stroke="#3a0a05" stroke-width="1.65"/>
<circle cx="741.1" cy="985.7" r="5.2" fill="#e83320" stroke="#3a0a05" stroke-width="1.65"/>
<circle cx="741.1" cy="996.3" r="5.2" fill="#e83320" stroke="#3a0a05" stroke-width="1.65"/>
<circle cx="732.7" cy="1007.5" r="5.2" fill="#e83320" stroke="#3a0a05" stroke-width="1.65"/>
<circle cx="742.5" cy="1004.7" r="5.2" fill="#e83320" stroke="#3a0a05" stroke-width="1.65"/>
<circle cx="737.0" cy="1012.0" r="5.2" fill="#e83320" stroke="#3a0a05" stroke-width="1.65"/>
<circle cx="746.0" cy="1011.0" r="5.2" fill="#e83320" stroke="#3a0a05" stroke-width="1.65"/>
<circle cx="732.0" cy="1017.0" r="5.2" fill="#e83320" stroke="#3a0a05" stroke-width="1.65"/>
<circle cx="738.0" cy="1017.0" r="5.2" fill="#e83320" stroke="#3a0a05" stroke-width="1.65"/>
<circle cx="744.0" cy="1017.0" r="5.2" fill="#e83320" stroke="#3a0a05" stroke-width="1.65"/>
<circle cx="750.0" cy="1017.0" r="5.2" fill="#e83320" stroke="#3a0a05" stroke-width="1.65"/>
<line x1="727.0" y1="978.7" x2="755.9" y2="978.7" stroke="#000" stroke-width="2.9"/>
<circle cx="784.4" cy="845.4" r="5.2" fill="#179a5c" stroke="#082a18" stroke-width="1.65"/>
<circle cx="784.4" cy="860.5" r="5.2" fill="#179a5c" stroke="#082a18" stroke-width="1.65"/>
<circle cx="789.3" cy="898.2" r="5.2" fill="#179a5c" stroke="#082a18" stroke-width="1.65"/>
<circle cx="784.4" cy="907.9" r="5.2" fill="#179a5c" stroke="#082a18" stroke-width="1.65"/>
<circle cx="779.5" cy="933.3" r="5.2" fill="#179a5c" stroke="#082a18" stroke-width="1.65"/>
<circle cx="789.7" cy="937.2" r="5.2" fill="#179a5c" stroke="#082a18" stroke-width="1.65"/>
<circle cx="785.0" cy="948.0" r="5.2" fill="#179a5c" stroke="#082a18" stroke-width="1.65"/>
<circle cx="775.2" cy="952.9" r="5.2" fill="#179a5c" stroke="#082a18" stroke-width="1.65"/>
<circle cx="789.3" cy="956.8" r="5.2" fill="#179a5c" stroke="#082a18" stroke-width="1.65"/>
<circle cx="780.5" cy="963.6" r="5.2" fill="#179a5c" stroke="#082a18" stroke-width="1.65"/>
<circle cx="779.5" cy="990.9" r="5.2" fill="#179a5c" stroke="#082a18" stroke-width="1.65"/>
<circle cx="784.4" cy="1001.7" r="5.2" fill="#179a5c" stroke="#082a18" stroke-width="1.65"/>
<circle cx="790.3" cy="1000.7" r="5.2" fill="#179a5c" stroke="#082a18" stroke-width="1.65"/>
<circle cx="775.5" cy="1017.0" r="5.2" fill="#179a5c" stroke="#082a18" stroke-width="1.65"/>
<circle cx="781.0" cy="1017.0" r="5.2" fill="#179a5c" stroke="#082a18" stroke-width="1.65"/>
<circle cx="787.0" cy="1017.0" r="5.2" fill="#179a5c" stroke="#082a18" stroke-width="1.65"/>
<circle cx="793.0" cy="1017.0" r="5.2" fill="#179a5c" stroke="#082a18" stroke-width="1.65"/>
<line x1="770.7" y1="959.7" x2="799.1" y2="959.7" stroke="#000" stroke-width="2.9"/>
<circle cx="828.4" cy="792.7" r="5.2" fill="#f5a12e" stroke="#3a2608" stroke-width="1.65"/>
<circle cx="825.4" cy="834.2" r="5.2" fill="#f5a12e" stroke="#3a2608" stroke-width="1.65"/>
<circle cx="832.0" cy="839.3" r="5.2" fill="#f5a12e" stroke="#3a2608" stroke-width="1.65"/>
<circle cx="825.4" cy="851.0" r="5.2" fill="#f5a12e" stroke="#3a2608" stroke-width="1.65"/>
<circle cx="832.0" cy="857.4" r="5.2" fill="#f5a12e" stroke="#3a2608" stroke-width="1.65"/>
<circle cx="825.4" cy="864.7" r="5.2" fill="#f5a12e" stroke="#3a2608" stroke-width="1.65"/>
<circle cx="832.7" cy="872.0" r="5.2" fill="#f5a12e" stroke="#3a2608" stroke-width="1.65"/>
<circle cx="825.6" cy="875.9" r="5.2" fill="#f5a12e" stroke="#3a2608" stroke-width="1.65"/>
<circle cx="824.5" cy="887.5" r="5.2" fill="#f5a12e" stroke="#3a2608" stroke-width="1.65"/>
<circle cx="831.0" cy="886.6" r="5.2" fill="#f5a12e" stroke="#3a2608" stroke-width="1.65"/>
<circle cx="837.8" cy="890.9" r="5.2" fill="#f5a12e" stroke="#3a2608" stroke-width="1.65"/>
<circle cx="819.3" cy="894.8" r="5.2" fill="#f5a12e" stroke="#3a2608" stroke-width="1.65"/>
<circle cx="825.8" cy="908.6" r="5.2" fill="#f5a12e" stroke="#3a2608" stroke-width="1.65"/>
<circle cx="819.3" cy="915.9" r="5.2" fill="#f5a12e" stroke="#3a2608" stroke-width="1.65"/>
<circle cx="831.0" cy="915.4" r="5.2" fill="#f5a12e" stroke="#3a2608" stroke-width="1.65"/>
<circle cx="837.8" cy="914.2" r="5.2" fill="#f5a12e" stroke="#3a2608" stroke-width="1.65"/>
<circle cx="831.9" cy="973.4" r="5.2" fill="#f5a12e" stroke="#3a2608" stroke-width="1.65"/>
<circle cx="826.0" cy="984.1" r="5.2" fill="#f5a12e" stroke="#3a2608" stroke-width="1.65"/>
<circle cx="832.7" cy="990.0" r="5.2" fill="#f5a12e" stroke="#3a2608" stroke-width="1.65"/>
<circle cx="825.4" cy="995.8" r="5.2" fill="#f5a12e" stroke="#3a2608" stroke-width="1.65"/>
<line x1="814.6" y1="897.4" x2="843.0" y2="897.4" stroke="#000" stroke-width="2.9"/>
<circle cx="872.1" cy="840.0" r="5.2" fill="#a8205e" stroke="#2a0614" stroke-width="1.65"/>
<circle cx="875.4" cy="868.4" r="5.2" fill="#a8205e" stroke="#2a0614" stroke-width="1.65"/>
<circle cx="868.9" cy="874.1" r="5.2" fill="#a8205e" stroke="#2a0614" stroke-width="1.65"/>
<circle cx="863.1" cy="888.0" r="5.2" fill="#a8205e" stroke="#2a0614" stroke-width="1.65"/>
<circle cx="881.5" cy="888.0" r="5.2" fill="#a8205e" stroke="#2a0614" stroke-width="1.65"/>
<circle cx="875.4" cy="897.0" r="5.2" fill="#a8205e" stroke="#2a0614" stroke-width="1.65"/>
<circle cx="863.1" cy="908.5" r="5.2" fill="#a8205e" stroke="#2a0614" stroke-width="1.65"/>
<circle cx="881.5" cy="907.7" r="5.2" fill="#a8205e" stroke="#2a0614" stroke-width="1.65"/>
<circle cx="870.0" cy="914.3" r="5.2" fill="#a8205e" stroke="#2a0614" stroke-width="1.65"/>
<circle cx="875.4" cy="911.0" r="5.2" fill="#a8205e" stroke="#2a0614" stroke-width="1.65"/>
<circle cx="872.1" cy="925.7" r="5.2" fill="#a8205e" stroke="#2a0614" stroke-width="1.65"/>
<circle cx="868.9" cy="943.0" r="5.2" fill="#a8205e" stroke="#2a0614" stroke-width="1.65"/>
<circle cx="875.4" cy="949.5" r="5.2" fill="#a8205e" stroke="#2a0614" stroke-width="1.65"/>
<circle cx="868.9" cy="955.2" r="5.2" fill="#a8205e" stroke="#2a0614" stroke-width="1.65"/>
<circle cx="875.4" cy="965.1" r="5.2" fill="#a8205e" stroke="#2a0614" stroke-width="1.65"/>
<circle cx="863.1" cy="972.5" r="5.2" fill="#a8205e" stroke="#2a0614" stroke-width="1.65"/>
<circle cx="881.5" cy="970.8" r="5.2" fill="#a8205e" stroke="#2a0614" stroke-width="1.65"/>
<circle cx="874.6" cy="977.4" r="5.2" fill="#a8205e" stroke="#2a0614" stroke-width="1.65"/>
<circle cx="872.1" cy="988.9" r="5.2" fill="#a8205e" stroke="#2a0614" stroke-width="1.65"/>
<circle cx="872.1" cy="1012.6" r="5.2" fill="#a8205e" stroke="#2a0614" stroke-width="1.65"/>
<line x1="858.2" y1="919.2" x2="886.9" y2="919.2" stroke="#000" stroke-width="2.9"/>
<circle cx="916.4" cy="887.2" r="5.2" fill="#1b9c9c" stroke="#062a2a" stroke-width="1.65"/>
<circle cx="916.4" cy="900.3" r="5.2" fill="#1b9c9c" stroke="#062a2a" stroke-width="1.65"/>
<circle cx="912.0" cy="928.2" r="5.2" fill="#1b9c9c" stroke="#062a2a" stroke-width="1.65"/>
<circle cx="916.4" cy="934.8" r="5.2" fill="#1b9c9c" stroke="#062a2a" stroke-width="1.65"/>
<circle cx="910.7" cy="940.5" r="5.2" fill="#1b9c9c" stroke="#062a2a" stroke-width="1.65"/>
<circle cx="922.1" cy="941.3" r="5.2" fill="#1b9c9c" stroke="#062a2a" stroke-width="1.65"/>
<circle cx="916.4" cy="946.2" r="5.2" fill="#1b9c9c" stroke="#062a2a" stroke-width="1.65"/>
<circle cx="910.7" cy="959.3" r="5.2" fill="#1b9c9c" stroke="#062a2a" stroke-width="1.65"/>
<circle cx="920.5" cy="959.3" r="5.2" fill="#1b9c9c" stroke="#062a2a" stroke-width="1.65"/>
<circle cx="920.5" cy="974.9" r="5.2" fill="#1b9c9c" stroke="#062a2a" stroke-width="1.65"/>
<circle cx="912.3" cy="983.9" r="5.2" fill="#1b9c9c" stroke="#062a2a" stroke-width="1.65"/>
<circle cx="916.4" cy="991.3" r="5.2" fill="#1b9c9c" stroke="#062a2a" stroke-width="1.65"/>
<circle cx="922.1" cy="990.5" r="5.2" fill="#1b9c9c" stroke="#062a2a" stroke-width="1.65"/>
<circle cx="912.0" cy="1008.5" r="5.2" fill="#1b9c9c" stroke="#062a2a" stroke-width="1.65"/>
<circle cx="907.4" cy="1017.0" r="5.2" fill="#1b9c9c" stroke="#062a2a" stroke-width="1.65"/>
<circle cx="913.0" cy="1017.0" r="5.2" fill="#1b9c9c" stroke="#062a2a" stroke-width="1.65"/>
<circle cx="918.9" cy="1017.0" r="5.2" fill="#1b9c9c" stroke="#062a2a" stroke-width="1.65"/>
<circle cx="925.4" cy="1017.0" r="5.2" fill="#1b9c9c" stroke="#062a2a" stroke-width="1.65"/>
<line x1="902.5" y1="968.4" x2="930.3" y2="968.4" stroke="#000" stroke-width="2.9"/>
<text x="552.88" y="1157.45" font-size="25" font-weight="normal" fill="#000" stroke="#000" stroke-width="0.35">GMT</text>
<text x="554.05" y="1209.95" font-size="25" font-weight="normal" fill="#000" stroke="#000" stroke-width="0.35">Fold</text>
<text x="553.41" y="1256.95" font-size="25" font-weight="normal" fill="#000" stroke="#000" stroke-width="0.35">K/O %</text>
<text x="664.95" y="1154.75" font-size="25" font-weight="normal" fill="#000" stroke="#000" stroke-width="0.35">160</text>
<text x="672.20" y="1208.45" font-size="25" font-weight="normal" fill="#000" stroke="#000" stroke-width="0.35">19</text>
<text x="672.10" y="1253.55" font-size="25" font-weight="normal" fill="#000" stroke="#000" stroke-width="0.35">25</text>
<text x="722.38" y="1155.15" font-size="25" font-weight="normal" fill="#e0462f" stroke="#e0462f" stroke-width="0.35">99</text>
<text x="723.30" y="1208.15" font-size="25" font-weight="normal" fill="#e0462f" stroke="#e0462f" stroke-width="0.35">31</text>
<text x="724.16" y="1253.75" font-size="25" font-weight="normal" fill="#e0462f" stroke="#e0462f" stroke-width="0.35">45</text>
<text x="760.86" y="1155.15" font-size="25" font-weight="normal" fill="#2a9a66" stroke="#2a9a66" stroke-width="0.35">218</text>
<text x="770.11" y="1208.10" font-size="25" font-weight="normal" fill="#2a9a66" stroke="#2a9a66" stroke-width="0.35">14</text>
<text x="773.00" y="1252.55" font-size="25" font-weight="normal" fill="#2a9a66" stroke="#2a9a66" stroke-width="0.35">25</text>
<text x="810.76" y="1155.15" font-size="25" font-weight="normal" fill="#eea63e" stroke="#eea63e" stroke-width="0.35">3032</text>
<text x="831.01" y="1203.42" font-size="25" fill="#eea63e" stroke="#eea63e" stroke-width="0.35">-</text>
<text x="831.01" y="1248.72" font-size="25" fill="#eea63e" stroke="#eea63e" stroke-width="0.35">-</text>
<text x="879.39" y="1155.15" font-size="25" font-weight="normal" fill="#8c2b6e" stroke="#8c2b6e" stroke-width="0.35">826</text>
<text x="893.73" y="1206.10" font-size="25" font-weight="normal" fill="#8c2b6e" stroke="#8c2b6e" stroke-width="0.35">4</text>
<text x="895.31" y="1251.15" font-size="25" font-weight="normal" fill="#8c2b6e" stroke="#8c2b6e" stroke-width="0.35">5</text>
<text x="931.81" y="1155.15" font-size="25" font-weight="normal" fill="#2a9ba6" stroke="#2a9ba6" stroke-width="0.35">179</text>
<text x="937.76" y="1204.70" font-size="25" font-weight="normal" fill="#2a9ba6" stroke="#2a9ba6" stroke-width="0.35">17</text>
<text x="938.60" y="1252.55" font-size="25" font-weight="normal" fill="#2a9ba6" stroke="#2a9ba6" stroke-width="0.35">31</text>
</svg>
</body></html>
